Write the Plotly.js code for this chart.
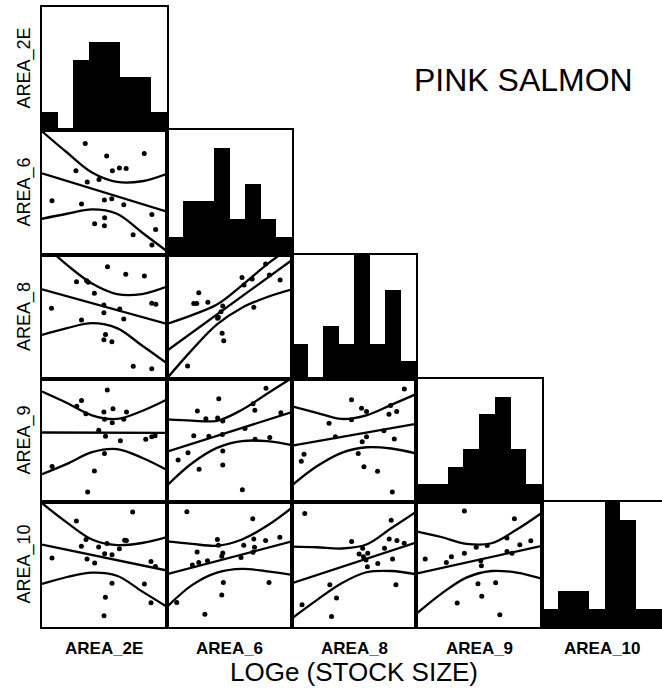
<!DOCTYPE html>
<html>
<head>
<meta charset="utf-8">
<script src="https://cdn.plot.ly/plotly-3.0.1.min.js"></script>
<style>html,body{margin:0;padding:0;background:#fff;}#chart{width:662px;height:692px;}</style>
</head>
<body>
<div id="chart"></div>
<script>
// ---------- DATA ----------
const variables = ["AREA_2E", "AREA_6", "AREA_8", "AREA_9", "AREA_10"];
const chartTitle = "PINK SALMON";
const xAxisTitle = "LOGe (STOCK SIZE)";

// Histogram bin counts (diagonal)
const histBins = [0.5, 1.5, 2.5, 3.5, 4.5, 5.5, 6.5, 7.5];
const hist_AREA_2E = [1, 0, 4, 5, 5, 3, 3, 1];
const hist_AREA_6  = [1, 3, 3, 6, 2, 4, 2, 1];
const hist_AREA_8  = [2, 0, 3, 2, 7, 2, 5, 1];
const hist_AREA_9  = [1, 1, 2, 3, 5, 6, 3, 1];
const hist_AREA_10 = [1, 2, 2, 1, 7, 6, 1, 1];

// Band sample positions and fit-line end positions (panel units 0-100)
const bandX = [0, 20, 40, 60, 80, 100];
const fitX = [0, 100];

// AREA_6 vs AREA_2E
const x_6_2E = [34.6,81.8,51.7,27.1,56.3,61.9,67.3,45.6,36.2,8.0,31.6,49.9,55.8,65.4,87.9,50.1,42.1,49.9,90.9,72.9,87.9];
const y_6_2E = [89.3,81.3,79.2,67.5,67.5,69.6,69.3,60.5,58.4,43.5,40.8,44.0,45.1,40.3,32.5,29.9,25.1,23.5,20.5,16.3,8.0];
const fit_6_2E = [65.3, 34.7];
const up_6_2E = [99, 82, 66, 58.5, 59, 65];
const lo_6_2E = [29, 33, 36.5, 33, 18, 3];

// AREA_8 vs AREA_2E
const x_8_2E = [52.4,67.0,81.9,27.6,35.7,37.0,41.9,49.5,87.8,91.1,7.6,62.2,49.5,31.6,65.4,50.8,49.5,55.9,73.0,87.8];
const y_8_2E = [90.6,84.4,83.1,78.5,79.3,78.0,69.1,59.7,61.0,60.2,57.0,56.5,53.5,47.6,48.4,35.8,31.7,30.1,10.2,8.3];
const fit_8_2E = [72.3, 44.4];
const up_8_2E = [110, 92, 77, 68.5, 68.5, 74.5];
const lo_8_2E = [35.5, 41, 45, 41, 27, 12.6];

// AREA_8 vs AREA_6
const x_8_6 = [78.9,81.9,90.5,60.0,68.1,61.6,25.4,21.4,23.8,32.7,44.6,43.2,41.1,69.5,40.5,44.1,45.4,16.5];
const y_8_6 = [92.7,83.9,79.8,81.9,80.6,75.8,69.6,60.8,60.8,61.8,58.9,54.3,49.7,57.8,48.9,36.8,30.9,10.5];
const fit_8_6 = [22.8, 96];
const up_8_6 = [44.4, 51.5, 60, 75.5, 92.5, 107];
const lo_8_6 = [0.5, 23.5, 44, 57.5, 66, 72.3];

// AREA_9 vs AREA_2E
const x_9_2E = [52.2,31.6,27.8,35.1,49.5,56.8,67.6,50.0,56.2,65.4,45.4,50.8,62.7,83.0,87.8,90.5,50.0,8.1,41.9,36.5];
const y_9_2E = [91.1,82.5,77.9,71.8,73.1,75.8,73.1,67.2,64.5,67.2,58.3,53.5,49.7,51.1,53.0,53.8,39.5,28.8,25.3,8.1];
const fit_9_2E = [56.5, 56.2];
const up_9_2E = [89.8, 80.5, 70.5, 67.5, 74, 83.3];
const lo_9_2E = [22.6, 31, 40.5, 43, 36, 26];

// AREA_9 vs AREA_6
const x_9_6 = [79.2,41.4,24.3,31.1,40.5,44.6,68.9,70.3,91.1,21.4,33.5,44.3,62.4,70.5,82.2,8.9,16.8,44.6,25.7,44.6,60.3];
const y_9_6 = [92.5,83.9,73.9,67.7,68.3,65.9,79.8,74.5,72.6,53.8,53.5,54.8,59.7,51.1,52.4,34.1,40.1,41.4,26.6,30.1,9.9];
const fit_9_6 = [40.9, 73.1];
const up_9_6 = [67.2, 66.2, 66, 75, 88, 101];
const lo_9_6 = [13.4, 31.5, 44, 49.5, 49.5, 46.2];

// AREA_9 vs AREA_8
const x_9_8 = [90.6,48.0,56.1,60.1,79.5,84.4,78.2,29.9,48.0,35.0,60.1,56.6,74.1,82.5,9.7,7.5,53.4,58.0,69.0,80.9];
const y_9_8 = [91.8,83.1,76.3,73.6,78.5,73.6,71.4,64.0,66.8,53.1,53.1,49.0,58.0,51.2,38.9,33.2,39.5,28.6,25.1,8.2];
const fit_9_8 = [45.8, 63.5];
const up_9_8 = [77.7, 72.5, 67.5, 70.5, 79, 87.7];
const lo_9_8 = [13.6, 29, 40, 44.5, 43.5, 39.5];

// AREA_10 vs AREA_2E
const x_10_2E = [72.5,27.5,35.2,66.1,67.5,31.5,45.3,52.0,61.9,50.1,56.0,8.0,36.0,42.1,87.2,90.7,56.0,81.9,50.7,87.2,49.6];
const y_10_2E = [91.9,84.7,69.9,69.4,69.1,64.5,64.0,66.7,62.6,58.6,57.8,55.1,54.3,51.1,52.4,48.4,34.9,34.4,23.7,19.4,8.9];
const fit_10_2E = [65.9, 45.2];
const up_10_2E = [99, 83.5, 70, 65.5, 67.2, 72];
const lo_10_2E = [34.4, 40, 43.5, 41, 28.5, 16.1];

// AREA_10 vs AREA_6
const x_10_6 = [15.9,68.6,40.3,41.1,69.5,78.9,90.3,61.4,70.0,24.1,44.6,68.9,59.2,20.3,25.4,32.4,43.8,45.1,81.6,43.8,7.8,30.3];
const y_10_6 = [92.2,86.6,69.9,65.3,70.4,69.1,71.8,65.3,63.7,59.9,59.1,59.7,55.6,49.5,51.6,52.9,56.5,35.5,35.5,25.5,19.6,10.2];
const fit_10_6 = [42.2, 68.5];
const up_10_6 = [68.5, 66.5, 65, 70, 81, 95.4];
const lo_10_6 = [16.1, 33.5, 43.5, 46.5, 44.5, 41.7];

// AREA_10 vs AREA_8
const x_10_8 = [10.3,80.0,48.1,57.0,78.4,84.6,90.5,74.6,54.1,57.6,61.1,59.7,60.8,69.2,81.1,30.5,83.8,35.9,8.1,31.9];
const y_10_8 = [90.8,85.4,68.4,63.0,70.3,69.2,67.0,63.0,58.4,56.2,58.9,53.5,48.1,50.8,54.3,33.8,33.8,23.2,17.8,8.4];
const fit_10_8 = [35.1, 67.6];
const up_10_8 = [64.3, 63.8, 62.8, 66, 79, 92];
const lo_10_8 = [7, 21.5, 35, 43.8, 44.8, 42.2];

// AREA_10 vs AREA_9
const x_10_9 = [38.4,78.1,72.2,47.8,56.5,91.1,82.4,38.4,28.1,7.3,24.1,51.4,51.9,72.2,76.2,49.2,63.2,52.2,32.7,66.5];
const y_10_9 = [92.7,86.5,71.1,63.8,65.1,68.9,65.7,58.9,56.2,54.3,51.6,52.9,48.9,60.3,58.9,34.6,35.4,24.6,19.2,9.7];
const fit_10_9 = [42.7, 64.9];
const up_10_9 = [76.5, 72, 66.5, 67, 78, 91.4];
const lo_10_9 = [10.3, 26.5, 39.5, 44.8, 43.5, 38.6];

// ---------- BUILD ----------
const W = 662, H = 692;
const colEdges = [42, 167, 292, 416, 542, 667];
const rowEdges = [7, 130, 255, 379, 502, 627];

const hists = [hist_AREA_2E, hist_AREA_6, hist_AREA_8, hist_AREA_9, hist_AREA_10];
const scatters = {
  "1,0": [x_6_2E, y_6_2E, fit_6_2E, up_6_2E, lo_6_2E],
  "2,0": [x_8_2E, y_8_2E, fit_8_2E, up_8_2E, lo_8_2E],
  "2,1": [x_8_6, y_8_6, fit_8_6, up_8_6, lo_8_6],
  "3,0": [x_9_2E, y_9_2E, fit_9_2E, up_9_2E, lo_9_2E],
  "3,1": [x_9_6, y_9_6, fit_9_6, up_9_6, lo_9_6],
  "3,2": [x_9_8, y_9_8, fit_9_8, up_9_8, lo_9_8],
  "4,0": [x_10_2E, y_10_2E, fit_10_2E, up_10_2E, lo_10_2E],
  "4,1": [x_10_6, y_10_6, fit_10_6, up_10_6, lo_10_6],
  "4,2": [x_10_8, y_10_8, fit_10_8, up_10_8, lo_10_8],
  "4,3": [x_10_9, y_10_9, fit_10_9, up_10_9, lo_10_9]
};

const traces = [];
const layout = {
  width: W, height: H,
  margin: {l: 0, r: 0, t: 0, b: 0},
  paper_bgcolor: "#fff", plot_bgcolor: "#fff",
  showlegend: false,
  bargap: 0,
  font: {family: "Liberation Sans, Arial, sans-serif", color: "#000"},
  annotations: []
};

let k = 0;
for (let r = 0; r < 5; r++) {
  for (let c = 0; c <= r; c++) {
    k++;
    const xn = k === 1 ? "xaxis" : "xaxis" + k;
    const yn = k === 1 ? "yaxis" : "yaxis" + k;
    const xr = k === 1 ? "x" : "x" + k;
    const yr = k === 1 ? "y" : "y" + k;
    const x0 = colEdges[c], x1 = Math.min(colEdges[c + 1], W);
    const top = rowEdges[r], bot = rowEdges[r + 1];
    const isHist = r === c;
    const fullW = colEdges[c + 1] - colEdges[c];
    const fracW = (x1 - x0) / fullW;
    const xMax = isHist ? 8 * fracW : 100 * fracW;
    const yMax = isHist ? 7 : 100;
    const common = {showgrid: false, zeroline: false, showticklabels: false, ticks: "",
      showline: true, linecolor: "#000", linewidth: 2, fixedrange: true};
    layout[xn] = Object.assign({}, common, {
      domain: [x0 / W, x1 / W], range: [0, xMax], anchor: yr, mirror: true
    });
    layout[yn] = Object.assign({}, common, {
      domain: [1 - bot / H, 1 - top / H], range: [0, yMax], anchor: xr,
      mirror: x1 >= W ? false : true
    });
    if (isHist) {
      traces.push({type: "bar", x: histBins, y: hists[r], width: 1,
        marker: {color: "#000", line: {width: 0}}, xaxis: xr, yaxis: yr, hoverinfo: "skip"});
    } else {
      const d = scatters[r + "," + c];
      const ln = {color: "#000", width: 2.3};
      traces.push({type: "scatter", mode: "lines", x: fitX, y: d[2], line: ln, xaxis: xr, yaxis: yr});
      traces.push({type: "scatter", mode: "lines", x: bandX, y: d[3], line: Object.assign({shape: "spline", smoothing: 1}, ln), xaxis: xr, yaxis: yr});
      traces.push({type: "scatter", mode: "lines", x: bandX, y: d[4], line: Object.assign({shape: "spline", smoothing: 1}, ln), xaxis: xr, yaxis: yr});
      traces.push({type: "scatter", mode: "markers", x: d[0], y: d[1],
        marker: {color: "#000", size: 5}, xaxis: xr, yaxis: yr});
    }
  }
}

// Row labels (left, rotated)
for (let r = 0; r < 5; r++) {
  layout.annotations.push({
    text: variables[r], xref: "paper", yref: "paper",
    x: 24 / W, y: 1 - ((rowEdges[r] + rowEdges[r + 1]) / 2) / H,
    xanchor: "center", yanchor: "middle", textangle: -90, showarrow: false,
    font: {size: 18, family: "Liberation Sans, Arial, sans-serif", color: "#000"}
  });
}
// Column labels (bottom)
const colCenters = [104, 229, 354, 479, 602];
for (let c = 0; c < 5; c++) {
  layout.annotations.push({
    text: "<b>" + variables[c] + "</b>", xref: "paper", yref: "paper",
    x: colCenters[c] / W, y: 1 - 648 / H,
    xanchor: "center", yanchor: "middle", showarrow: false,
    font: {size: 17, family: "Liberation Sans, Arial, sans-serif", color: "#000"}
  });
}
layout.annotations.push({
  text: xAxisTitle, xref: "paper", yref: "paper",
  x: 354 / W, y: 1 - 672 / H, xanchor: "center", yanchor: "middle", showarrow: false,
  font: {size: 26, family: "Liberation Sans, Arial, sans-serif", color: "#000"}
});
layout.annotations.push({
  text: chartTitle, xref: "paper", yref: "paper",
  x: 523 / W, y: 1 - 80 / H, xanchor: "center", yanchor: "middle", showarrow: false,
  font: {size: 32, family: "Liberation Sans, Arial, sans-serif", color: "#000"}
});

Plotly.newPlot("chart", traces, layout, {staticPlot: true, displayModeBar: false});
</script>
</body>
</html>
